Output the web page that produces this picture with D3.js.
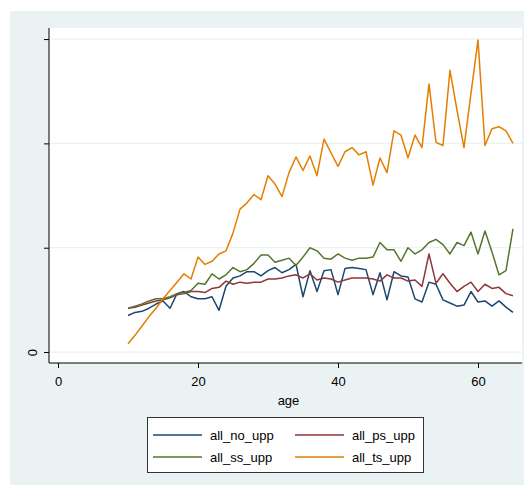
<!DOCTYPE html>
<html>
<head>
<meta charset="utf-8">
<script src="https://cdn.jsdelivr.net/npm/d3@7"></script>
<style>
  body { margin: 0; background: #fff; }
  text { font-family: "Liberation Sans", Arial, sans-serif; fill: #000; }
  .axis path, .axis line { stroke: #000; }
</style>
</head>
<body>
<script>
var w = 524;
var h = 485;

// ages 10..65
const ages = d3.range(10, 66);

const allNo = [0.35,0.38,0.39,0.42,0.46,0.49,0.42,0.56,0.58,0.53,0.51,0.51,0.53,0.40,0.63,0.71,0.73,0.77,0.77,0.73,
  0.78,0.81,0.76,0.79,0.84,0.53,0.78,0.58,0.78,0.79,0.55,0.80,0.81,0.80,0.79,0.55,0.76,0.50,0.77,0.73,
  0.72,0.51,0.48,0.67,0.65,0.50,0.47,0.44,0.45,0.58,0.48,0.49,0.44,0.49,0.43,0.38];
const allPs = [0.42,0.43,0.45,0.47,0.49,0.50,0.52,0.55,0.56,0.58,0.58,0.57,0.61,0.62,0.68,0.65,0.67,0.66,0.67,0.67,
  0.70,0.70,0.71,0.73,0.74,0.71,0.75,0.69,0.71,0.70,0.67,0.69,0.71,0.71,0.71,0.70,0.68,0.74,0.71,0.71,
  0.68,0.69,0.63,0.94,0.66,0.75,0.66,0.58,0.63,0.67,0.58,0.65,0.61,0.62,0.56,0.54];
const allSs = [0.42,0.44,0.46,0.49,0.51,0.51,0.53,0.56,0.57,0.59,0.66,0.65,0.75,0.70,0.74,0.81,0.77,0.79,0.85,0.93,
  0.93,0.86,0.88,0.90,0.83,0.91,1.00,0.97,0.90,0.89,0.94,0.90,0.88,0.90,0.90,0.91,1.05,0.98,0.98,0.87,
  1.00,0.94,0.98,1.05,1.08,1.03,0.94,1.05,1.02,1.15,0.94,1.16,0.96,0.74,0.78,1.18];
const allTs = [0.08,0.16,0.25,0.34,0.42,0.51,0.59,0.67,0.75,0.70,0.91,0.84,0.87,0.94,0.97,1.14,1.37,1.43,1.51,1.46,
  1.69,1.61,1.49,1.72,1.87,1.74,1.88,1.69,2.04,1.91,1.78,1.92,1.96,1.89,1.92,1.60,1.86,1.72,2.12,2.08,
  1.86,2.08,1.96,2.57,2.01,1.98,2.70,2.32,1.96,2.48,2.99,1.98,2.14,2.16,2.12,2.00];

const seriesNames = ["all_no_upp", "all_ps_upp", "all_ss_upp", "all_ts_upp"];
const seriesColors = ["#1a476f", "#90353b", "#55752f", "#e37e00"];
const xTicks = [0, 20, 40, 60];
const yTicks = [0, 1, 2, 3];
const yTickLabels = ["0", "", "", ""];

const series = [allNo, allPs, allSs, allTs].map((vals, i) => ({
    name: seriesNames[i],
    color: seriesColors[i],
    values: vals.map((v, j) => ({ age: ages[j], value: v }))
}));

// plot region
const plotL = 49, plotR = 522, plotT = 28, plotB = 363;

const xScale = d3.scaleLinear()
    .domain([-1.29, 66.29])
    .range([plotL, plotR]);

const yScale = d3.scaleLinear()
    .domain([-0.105, 3.106])
    .range([plotB, plotT]);

const svg = d3.select("body")
    .append("svg")
    .attr("width", w)
    .attr("height", h);

// outer graph region
svg.append("rect")
    .attr("x", 10).attr("y", 11)
    .attr("width", w - 10).attr("height", h - 11)
    .attr("fill", "#eaf2f3");

// plot region
svg.append("rect")
    .attr("x", plotL).attr("y", plotT)
    .attr("width", plotR - plotL).attr("height", plotB - plotT)
    .attr("fill", "#fff");

// gridlines
svg.selectAll(".grid")
    .data(yTicks)
    .enter().append("line")
    .attr("class", "grid")
    .attr("x1", plotL).attr("x2", plotR)
    .attr("y1", d => yScale(d)).attr("y2", d => yScale(d))
    .attr("stroke", "#eaf2f3")
    .attr("stroke-width", 1.2);

// lines
const line = d3.line()
    .x(d => xScale(d.age))
    .y(d => yScale(d.value));

svg.selectAll(".series")
    .data(series)
    .enter().append("path")
    .attr("class", "series")
    .attr("d", d => line(d.values))
    .attr("fill", "none")
    .attr("stroke", d => d.color)
    .attr("stroke-width", 1.5)
    .attr("stroke-linejoin", "round");

// axes
const xAxis = d3.axisBottom(xScale)
    .tickValues(xTicks)
    .tickSize(5)
    .tickSizeOuter(0)
    .tickPadding(9);

const yAxis = d3.axisLeft(yScale)
    .tickValues(yTicks)
    .tickSize(5)
    .tickSizeOuter(0)
    .tickFormat((d, i) => yTickLabels[i]);

const gx = svg.append("g")
    .attr("class", "axis")
    .attr("transform", `translate(0, ${plotB})`)
    .call(xAxis);
gx.select(".domain").attr("d", `M${plotL},0H${plotR}`);
gx.selectAll("text").attr("font-size", 13).style("font-family", "Liberation Sans, Arial, sans-serif");

const gy = svg.append("g")
    .attr("class", "axis")
    .attr("transform", `translate(${plotL}, 0)`)
    .call(yAxis);
gy.select(".domain").attr("d", `M0,${plotT}V${plotB}`);
gy.selectAll(".tick text")
    .attr("font-size", 13)
    .style("font-family", "Liberation Sans, Arial, sans-serif")
    .attr("text-anchor", "middle")
    .attr("x", 0)
    .attr("y", 0)
    .attr("dy", 0)
    .attr("transform", "translate(-12,0) rotate(-90)");

// x title
svg.append("text")
    .attr("x", (plotL + plotR) / 2 + 3)
    .attr("y", 405)
    .attr("text-anchor", "middle")
    .attr("font-size", 13)
    .text("age");

// legend
const lg = svg.append("g");
lg.append("rect")
    .attr("x", 147.5).attr("y", 417.5)
    .attr("width", 276).attr("height", 55)
    .attr("fill", "#fff")
    .attr("stroke", "#333")
    .attr("stroke-width", 1);

const items = lg.selectAll(".item")
    .data(series)
    .enter().append("g")
    .attr("class", "item")
    .attr("transform", (d, i) => `translate(${i % 2 === 0 ? 153 : 295}, ${i < 2 ? 435 : 457})`);

items.append("line")
    .attr("x1", 0).attr("x2", 49)
    .attr("stroke", d => d.color)
    .attr("stroke-width", 1.5);

items.append("text")
    .attr("x", 57)
    .attr("y", 5)
    .attr("font-size", 13)
    .text(d => d.name);
</script>
</body>
</html>
